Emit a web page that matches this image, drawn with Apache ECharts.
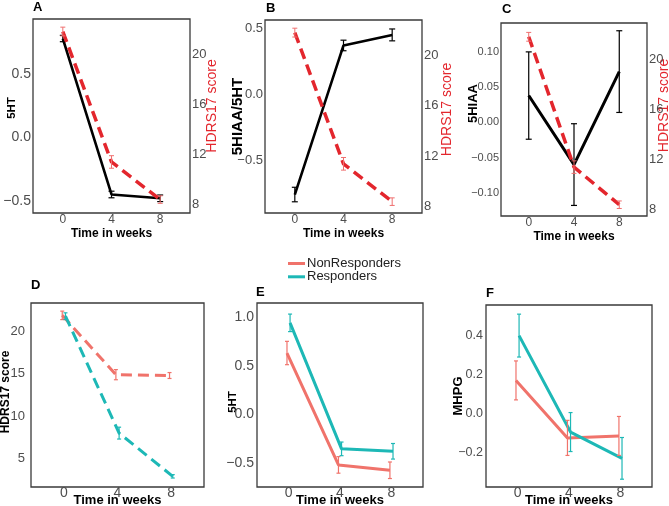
<!DOCTYPE html>
<html><head><meta charset="utf-8">
<script src="https://cdn.jsdelivr.net/npm/echarts@6/dist/echarts.min.js"></script>
<style>html,body{margin:0;padding:0;background:#fff}#c{width:669px;height:506px}</style>
</head><body><div id="c"></div>
<script>
// ---------- data ----------
const weeks = [0, 4, 8];
const xTicks = [0, 4, 8];
// Panel A-C: all patients
const hdrsMean = [21.8, 11.4, 8.4];
const hdrsErr = [0.35, 0.5, 0.3];
const ht5Mean = [0.78, -0.45, -0.48];
const ht5Err = [0.025, 0.026, 0.026];
const ratioMean = [-0.76, 0.37, 0.45];
const ratioErr = [0.055, 0.04, 0.045];
const hiaaMean = [0.038, -0.06, 0.072];
const hiaaErr = [0.062, 0.058, 0.058];
// Panel D-F: by response group
const hdrsNon = [21.9, 14.9, 14.8];
const hdrsNonErr = [0.5, 0.6, 0.35];
const hdrsResp = [21.8, 8.0, 2.9];
const hdrsRespErr = [0.4, 0.7, 0.2];
const ht5Non = [0.63, -0.52, -0.575];
const ht5NonErr = [0.12, 0.085, 0.085];
const ht5Resp = [0.94, -0.355, -0.38];
const ht5RespErr = [0.09, 0.07, 0.08];
const mhpgNon = [0.17, -0.125, -0.115];
const mhpgNonErr = [0.1, 0.09, 0.1];
const mhpgResp = [0.40, -0.095, -0.23];
const mhpgRespErr = [0.11, 0.1, 0.107];
// tick labels
const ticksHdrsRight = [8, 12, 16, 20];
const ticks5htA = [-0.5, 0.0, 0.5];
const ticksRatio = [-0.5, 0.0, 0.5];
const ticksHiaa = [-0.10, -0.05, 0.00, 0.05, 0.10];
const ticksHdrsD = [5, 10, 15, 20];
const ticks5htE = [-0.5, 0.0, 0.5, 1.0];
const ticksMhpg = [-0.2, 0.0, 0.2, 0.4];
const groupNames = ['NonResponders', 'Responders'];
const panelLetters = ['A', 'B', 'C', 'D', 'E', 'F'];

// ---------- styling ----------
const FONT = '"Liberation Sans", Arial, sans-serif';
const GRAY = '#4d4d4d';
const RED = '#e3262d';
const RED_ERR = '#ef6f6f';
const C_NON = '#f0736b';
const C_RESP = '#1db8b6';
const DODGE = 0.12;

function fmt(ticks, dec) {
  return function (v) {
    for (const t of ticks) {
      if (Math.abs(v - t) < 1e-7) {
        let s = t.toFixed(dec);
        if (s.charAt(0) === '-') s = '\u2212' + s.slice(1);
        return s;
      }
    }
    return '';
  };
}

const grids = [
  { left: 33, top: 19, width: 157, height: 194 },
  { left: 265, top: 20, width: 157, height: 193 },
  { left: 501, top: 23, width: 146, height: 193 },
  { left: 31, top: 303, width: 173, height: 184 },
  { left: 257, top: 303, width: 166, height: 184 },
  { left: 486, top: 305, width: 166, height: 182 }
].map(g => Object.assign(g, { show: true, borderColor: '#3a3a3a', borderWidth: 1.3, backgroundColor: 'transparent', containLabel: false, outerBoundsMode: 'none' }));

function shiftPad(s) { return s >= 0 ? [0, 0, 0, 2 * s] : [0, -2 * s, 0, 0]; }

function xAxisFor(i) {
  const bottom = i >= 3;
  return {
    type: 'value', gridIndex: i, min: -2.45, max: 10.45, minInterval: 4, maxInterval: 4,
    axisLine: { show: false }, axisTick: { show: false }, splitLine: { show: false },
    axisLabel: { formatter: fmt(xTicks, 0), color: GRAY, fontSize: bottom ? 14 : 12, fontFamily: FONT, margin: bottom ? -1 : 1 },
    name: 'Time in weeks', nameLocation: 'middle', nameGap: bottom ? 7 : 15, nameMoveOverlap: false,
    nameTextStyle: { fontWeight: 'bold', fontSize: bottom ? 13 : 12, color: '#000', fontFamily: FONT }
  };
}

function yAxisFor(i, o) {
  return {
    type: 'value', gridIndex: i, position: o.right ? 'right' : 'left',
    min: o.min, max: o.max, minInterval: o.interval, maxInterval: o.interval,
    axisLine: { show: false }, axisTick: { show: false }, splitLine: { show: false },
    axisLabel: { formatter: fmt(o.ticks, o.dec), color: GRAY, fontSize: o.fs, fontFamily: FONT, margin: o.margin },
    name: o.name, nameLocation: 'middle', nameGap: o.gap, nameRotate: 90, nameMoveOverlap: false,
    nameTextStyle: o.right
      ? { color: RED, fontSize: o.nfs, fontFamily: FONT, padding: shiftPad(o.shift) }
      : { color: '#000', fontWeight: 'bold', fontSize: o.nfs, fontFamily: FONT, padding: shiftPad(o.shift) }
  };
}

const yAxes = [
  yAxisFor(0, { min: -0.596, max: 0.934, interval: 0.5, ticks: ticks5htA, dec: 1, fs: 14, margin: 2, name: '5HT', nfs: 11.5, gap: 15, shift: 8 }),
  yAxisFor(0, { right: true, min: 7.33, max: 22.8, interval: 4, ticks: ticksHdrsRight, dec: 0, fs: 13, margin: 2, name: 'HDRS17 score', nfs: 14, gap: 15, shift: 10 }),
  yAxisFor(1, { min: -0.90, max: 0.563, interval: 0.5, ticks: ticksRatio, dec: 1, fs: 13, margin: 2, name: '5HIAA/5HT', nfs: 15, gap: 20, shift: 0 }),
  yAxisFor(1, { right: true, min: 7.5, max: 22.8, interval: 4, ticks: ticksHdrsRight, dec: 0, fs: 13, margin: 2, name: 'HDRS17 score', nfs: 14, gap: 18, shift: 7 }),
  yAxisFor(2, { min: -0.133, max: 0.141, interval: 0.05, ticks: ticksHiaa, dec: 2, fs: 11, margin: 2, name: '5HIAA', nfs: 13, gap: 21, shift: 16 }),
  yAxisFor(2, { right: true, min: 7.5, max: 22.9, interval: 4, ticks: ticksHdrsRight, dec: 0, fs: 13, margin: 2, name: 'HDRS17 score', nfs: 14, gap: 10, shift: 14 }),
  yAxisFor(3, { min: 1.64, max: 23.36, interval: 5, ticks: ticksHdrsD, dec: 0, fs: 13, margin: 6, name: 'HDRS17 score', nfs: 12, gap: 19, shift: 3 }),
  yAxisFor(4, { min: -0.747, max: 1.144, interval: 0.5, ticks: ticks5htE, dec: 1, fs: 14, margin: 3, name: '5HT', nfs: 11.5, gap: 18, shift: -7 }),
  yAxisFor(5, { min: -0.377, max: 0.557, interval: 0.2, ticks: ticksMhpg, dec: 1, fs: 12.5, margin: 3, name: 'MHPG', nfs: 13, gap: 21, shift: 0 })
];

function pts(xs, ys, off) { return xs.map((x, k) => [x + (off || 0), ys[k]]); }

function lineSeries(name, grid, yIdx, ys, color, width, dashed, off, z) {
  return {
    type: 'line', name: name, xAxisIndex: grid, yAxisIndex: yIdx,
    data: pts(weeks, ys, off), symbol: 'none', silent: true, animation: false, z: z || 3,
    color: color,
    itemStyle: { color: color },
    lineStyle: { color: color, width: width, type: dashed ? [11, 6] : 'solid', cap: 'butt' }
  };
}

function errSeries(grid, yIdx, ys, errs, color, width, capHalf, off, z) {
  return {
    type: 'custom', xAxisIndex: grid, yAxisIndex: yIdx, silent: true, animation: false, z: z || 4,
    data: weeks.map((x, k) => [x + (off || 0), ys[k] - errs[k], ys[k] + errs[k]]),
    renderItem: function (params, api) {
      const lo = api.coord([api.value(0), api.value(1)]);
      const hi = api.coord([api.value(0), api.value(2)]);
      const st = { stroke: color, lineWidth: width };
      return {
        type: 'group', children: [
          { type: 'line', shape: { x1: lo[0], y1: lo[1], x2: hi[0], y2: hi[1] }, style: st },
          { type: 'line', shape: { x1: lo[0] - capHalf, y1: lo[1], x2: lo[0] + capHalf, y2: lo[1] }, style: st },
          { type: 'line', shape: { x1: hi[0] - capHalf, y1: hi[1], x2: hi[0] + capHalf, y2: hi[1] }, style: st }
        ]
      };
    }
  };
}

const series = [
  // A
  lineSeries('5HT', 0, 0, ht5Mean, '#000', 2.6, false, 0, 3),
  errSeries(0, 0, ht5Mean, ht5Err, '#000', 1.2, 3, 0, 4),
  lineSeries('HDRS', 0, 1, hdrsMean, RED, 3.5, true, 0, 5),
  errSeries(0, 1, hdrsMean, hdrsErr, RED_ERR, 1, 2.5, 0, 6),
  // B
  lineSeries('5HIAA/5HT', 1, 2, ratioMean, '#000', 2.6, false, 0, 3),
  errSeries(1, 2, ratioMean, ratioErr, '#000', 1.2, 3, 0, 4),
  lineSeries('HDRS', 1, 3, hdrsMean, RED, 3.5, true, 0, 5),
  errSeries(1, 3, hdrsMean, hdrsErr, RED_ERR, 1, 2.5, 0, 6),
  // C
  lineSeries('5HIAA', 2, 4, hiaaMean, '#000', 3, false, 0, 3),
  errSeries(2, 4, hiaaMean, hiaaErr, '#000', 1.2, 3, 0, 4),
  lineSeries('HDRS', 2, 5, hdrsMean, RED, 3.5, true, 0, 5),
  errSeries(2, 5, hdrsMean, hdrsErr, RED_ERR, 1, 2.5, 0, 6),
  // D
  lineSeries(groupNames[0], 3, 6, hdrsNon, C_NON, 3, true, -DODGE),
  errSeries(3, 6, hdrsNon, hdrsNonErr, C_NON, 1.2, 2, -DODGE),
  lineSeries(groupNames[1], 3, 6, hdrsResp, C_RESP, 3, true, DODGE),
  errSeries(3, 6, hdrsResp, hdrsRespErr, C_RESP, 1.2, 2, DODGE),
  // E
  lineSeries(groupNames[0], 4, 7, ht5Non, C_NON, 3, false, -DODGE),
  errSeries(4, 7, ht5Non, ht5NonErr, C_NON, 1.2, 2, -DODGE),
  lineSeries(groupNames[1], 4, 7, ht5Resp, C_RESP, 3, false, DODGE),
  errSeries(4, 7, ht5Resp, ht5RespErr, C_RESP, 1.2, 2, DODGE),
  // F
  lineSeries(groupNames[0], 5, 8, mhpgNon, C_NON, 3, false, -DODGE),
  errSeries(5, 8, mhpgNon, mhpgNonErr, C_NON, 1.2, 2, -DODGE),
  lineSeries(groupNames[1], 5, 8, mhpgResp, C_RESP, 3, false, DODGE),
  errSeries(5, 8, mhpgResp, mhpgRespErr, C_RESP, 1.2, 2, DODGE)
];

const letterPos = [[33, 1], [266, 2], [502, 3], [31, 279], [256, 286], [486, 287]];
const titles = panelLetters.map((t, i) => ({
  text: t, left: letterPos[i][0], top: letterPos[i][1], padding: 0,
  textStyle: { fontSize: 13, fontWeight: 'bold', color: '#000', fontFamily: FONT }
}));

const option = {
  backgroundColor: '#fff',
  animation: false,
  title: titles,
  grid: grids,
  xAxis: [0, 1, 2, 3, 4, 5].map(xAxisFor),
  yAxis: yAxes,
  legend: {
    data: groupNames.map(n => ({ name: n })),
    orient: 'vertical', left: 288, top: 257, padding: 0, itemGap: 0.3,
    icon: 'rect', itemWidth: 17, itemHeight: 3, selectedMode: false,
    textStyle: { fontSize: 13, color: '#222', fontFamily: FONT, lineHeight: 13, padding: [0, 0, 0, -3] }
  },
  series: series
};

const chart = echarts.init(document.getElementById('c'), null, { renderer: 'canvas' });
chart.setOption(option);
</script>
</body></html>
